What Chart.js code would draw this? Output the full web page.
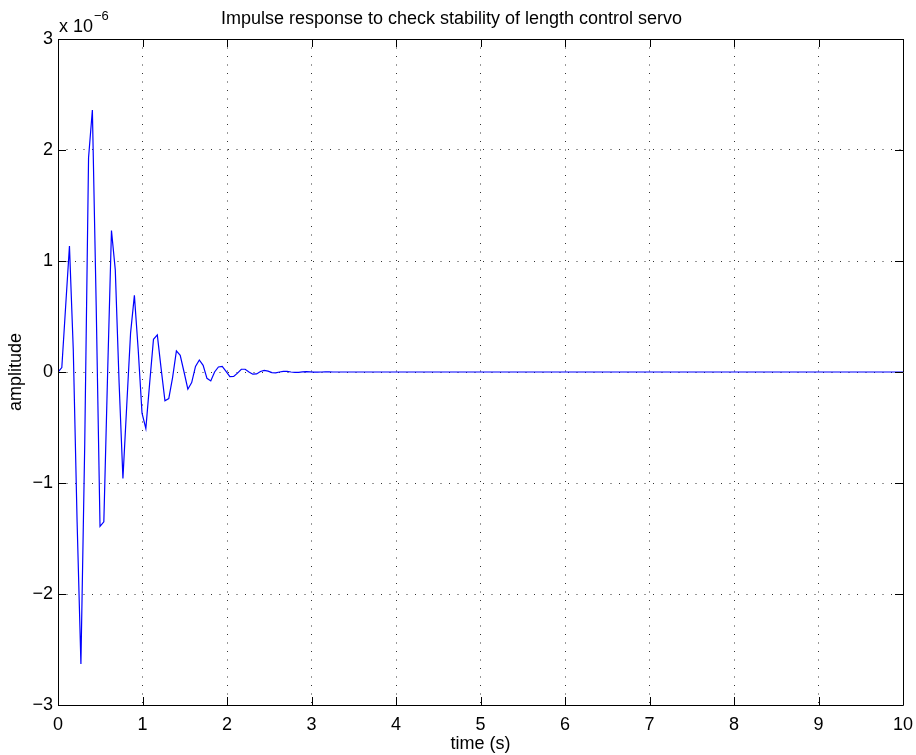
<!DOCTYPE html>
<html>
<head>
<meta charset="utf-8">
<title>Impulse response</title>
<script src="https://cdn.jsdelivr.net/npm/chart.js@4/dist/chart.umd.min.js"></script>
<style>
  html, body { margin: 0; padding: 0; background: #fff; }
  #wrap { width: 916px; height: 755px; }
</style>
</head>
<body>
<div id="wrap"><canvas id="myChart" width="916" height="755"></canvas></div>
<script>
/* Data (amplitude in units of 1e-6, one sample every sampleStep seconds) */
const titleText = 'Impulse response to check stability of length control servo';
const sampleStep = 0.0452;
const endTime = 10;
const amplitude = [
  0, 0.04, 0.59, 1.135, 0.2, -1.35, -2.63, -0.65, 1.93, 2.36,
  0.6, -1.39, -1.35, 0.0, 1.275, 0.92, -0.1, -0.96, -0.3, 0.35,
  0.69, 0.2, -0.37, -0.51, -0.1, 0.295, 0.335, 0.03, -0.26, -0.24,
  -0.05, 0.19, 0.15, 0.0, -0.155, -0.095, 0.05, 0.108, 0.06, -0.057,
  -0.08, 0.0, 0.045, 0.05, 0.005, -0.042, -0.04, -0.01, 0.025, 0.025,
  0.0, -0.02, -0.017, 0.005, 0.015, 0.008, -0.005, -0.008, 0.0, 0.006,
  0.005, 0.0, -0.004, -0.003, 0.001, 0.003, 0.002, -0.001, -0.002, 0,
  0.001, 0.001, 0
];
const xTicks = [0, 1, 2, 3, 4, 5, 6, 7, 8, 9, 10];
const yTicks = [-3, -2, -1, 0, 1, 2, 3];

const fontName = '"Liberation Sans", Arial, Helvetica, sans-serif';

/* build points for the line */
function buildPoints() {
  const pts = amplitude.map((v, i) => ({x: i * sampleStep, y: v}));
  pts.push({x: endTime, y: 0});
  return pts;
}

/* box, inward ticks and exponent label like matlab */
const axesBox = {
  id: 'axesBox',
  afterDraw(chart) {
    const ctx = chart.ctx;
    const a = chart.chartArea;
    const x = chart.scales.x;
    const y = chart.scales.y;
    ctx.save();
    ctx.strokeStyle = '#000';
    ctx.lineWidth = 1;
    ctx.beginPath();
    for (const t of xTicks) {
      const px = Math.round(x.getPixelForValue(t)) + 0.5;
      ctx.moveTo(px, a.bottom); ctx.lineTo(px, a.bottom - 8);
      ctx.moveTo(px, a.top); ctx.lineTo(px, a.top + 8);
    }
    for (const t of yTicks) {
      const py = Math.round(y.getPixelForValue(t)) + 0.5;
      ctx.moveTo(a.left, py); ctx.lineTo(a.left + 8, py);
      ctx.moveTo(a.right, py); ctx.lineTo(a.right - 8, py);
    }
    ctx.rect(Math.round(a.left) + 0.5, Math.round(a.top) + 0.5,
      Math.round(a.right - a.left), Math.round(a.bottom - a.top));
    ctx.stroke();

    ctx.fillStyle = '#000';
    ctx.textBaseline = 'alphabetic';
    ctx.font = '18px ' + fontName;
    const base = 'x 10';
    ctx.fillText(base, a.left + 1, a.top - 7);
    const w = ctx.measureText(base).width;
    ctx.font = '13px ' + fontName;
    ctx.fillText('\u22126', a.left + 1 + w + 1, a.top - 19);
    ctx.restore();
  }
};

function initChart() {
  const ctx = document.getElementById('myChart').getContext('2d');

  // eslint-disable-next-line no-undef
  const myChart = new Chart(ctx, {
    type: 'line',
    data: {
      datasets: [{
        data: buildPoints(),
        borderColor: '#0000ff',
        borderWidth: 1.2,
        pointRadius: 0,
        tension: 0,
        fill: false,
      }]
    },
    options: {
      responsive: false,
      animation: false,
      layout: {padding: {left: 0, right: 13, top: 0, bottom: 0}},
      plugins: {
        legend: {display: false},
        tooltip: {enabled: false},
        title: {
          display: true,
          text: titleText,
          color: '#000',
          font: {family: fontName, size: 18, weight: 'normal'},
          padding: {top: 8, bottom: 9.4},
        },
      },
      scales: {
        x: {
          type: 'linear',
          min: 0,
          max: 10,
          afterFit(scale) {
            scale.height = 50;
            scale.paddingLeft = 0;
            scale.paddingRight = 0;
          },
          afterBuildTicks(scale) { scale.ticks = xTicks.map(v => ({value: v})); },
          ticks: {
            color: '#000',
            font: {family: fontName, size: 18},
            padding: 9,
            maxRotation: 0,
          },
          grid: {color: 'rgba(0,0,0,0.8)', lineWidth: 1, drawTicks: false},
          border: {display: false, dash: [1, 7.5]},
          title: {
            display: true,
            text: 'time (s)',
            color: '#000',
            font: {family: fontName, size: 18},
            padding: {top: 0, bottom: 0},
          },
        },
        y: {
          type: 'linear',
          min: -3,
          max: 3,
          afterFit(scale) {
            scale.width = 58;
            scale.paddingTop = 0;
            scale.paddingBottom = 0;
          },
          afterBuildTicks(scale) { scale.ticks = yTicks.map(v => ({value: v})); },
          ticks: {
            color: '#000',
            font: {family: fontName, size: 18},
            padding: 5,
            callback: v => (v < 0 ? '\u2212' + Math.abs(v) : String(v)),
          },
          grid: {color: 'rgba(0,0,0,0.8)', lineWidth: 1, drawTicks: false},
          border: {display: false, dash: [1, 7.5]},
          title: {
            display: true,
            text: 'amplitude',
            color: '#000',
            font: {family: fontName, size: 18},
            padding: {top: 5, bottom: 0},
          },
        },
      },
    },
    plugins: [axesBox],
  });
}

const app = () => {
  initChart();
};

app();
</script>
</body>
</html>
